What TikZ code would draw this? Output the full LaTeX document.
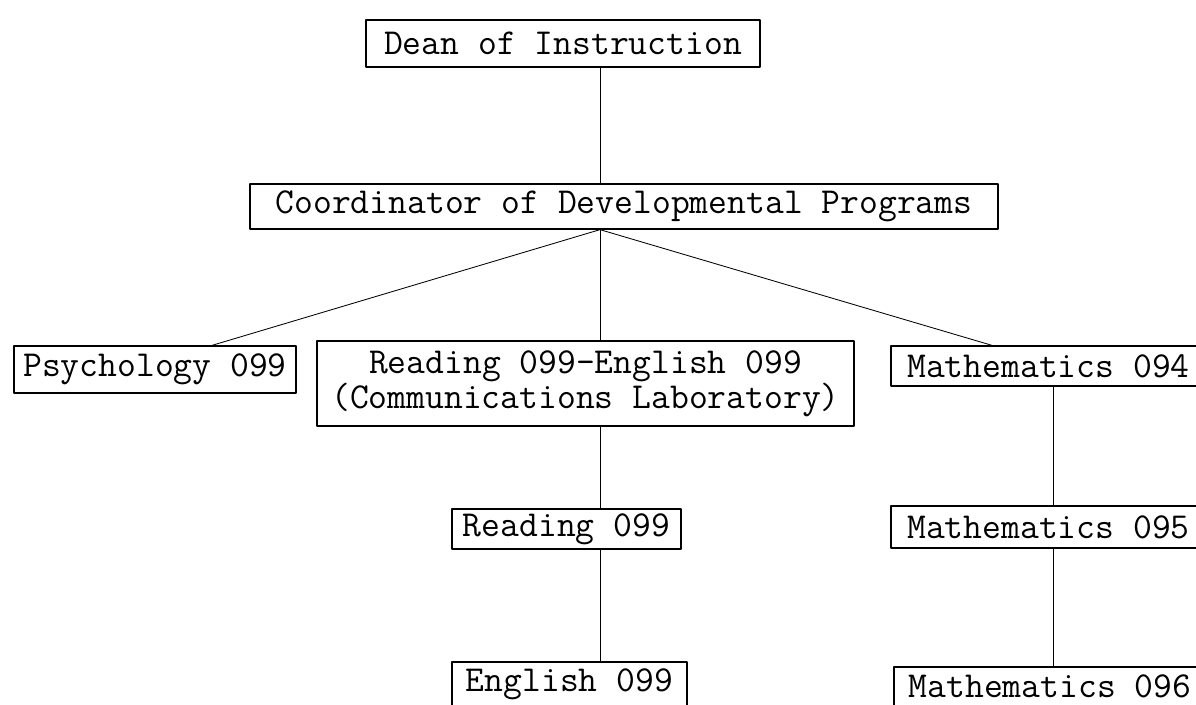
\documentclass[tikz,border=0pt]{standalone}
\usepackage{fontspec}
\tikzset{orgbox/.style={draw, line width=.9pt, inner sep=0pt, align=center,
		font=\ttfamily\fontsize{26}{25}\selectfont}}
\begin{document}
\begin{tikzpicture}[x=.025cm, y=-.025cm, line width=.6pt, line join=round, line cap=round]
			\useasboundingbox (0,0) rectangle (1196,704);
			\clip (0,0) rectangle (1196,704);
			\coordinate (spine) at (600,0);
			\coordinate (mspine) at (1053,0);
			\coordinate (pl) at (212,0);
			\coordinate (pr) at (992,0);
			\node[orgbox, minimum width=9.85cm, minimum height=1.175cm] (dean) at (563,43.5) {Dean of Instruction};
			\node[orgbox, minimum width=18.7cm, minimum height=1.125cm] (coord) at (624,206.5) {Coordinator of Developmental Programs};
			\node[orgbox, minimum width=7.05cm, minimum height=1.175cm] (psych) at (155,369.5) {Psychology 099};
			\node[orgbox, minimum width=13.425cm, minimum height=2.125cm] (comm) at (585.5,383.5) {Reading 099-English 099\\(Communications Laboratory)};
			\node[orgbox, minimum width=7.875cm, minimum height=1cm] (m94) at (1048.5,366) {Mathematics 094};
			\node[orgbox, minimum width=5.725cm, minimum height=1cm] (r99) at (566.5,529) {Reading 099};
			\node[orgbox, minimum width=5.875cm, minimum height=1.1cm] (e99) at (569.5,684) {English 099};
			\node[orgbox, minimum width=7.875cm, minimum height=1.05cm] (m95) at (1048.5,527) {Mathematics 095};
			\node[orgbox, minimum width=7.8cm, minimum height=.975cm] (m96) at (1050,686.5) {Mathematics 096};
			% spine of the chart
			\draw (dean.south -| spine)--(coord.north -| spine);
			\draw (coord.south -| spine)--(comm.north -| spine);
			\draw (coord.south -| spine)--(psych.north -| pl);
			\draw (coord.south -| spine)--(m94.north -| pr);
			\draw (comm.south -| spine)--(r99.north -| spine);
			\draw (r99.south -| spine)--(e99.north -| spine);
			% mathematics sequence
			\draw (m94.south -| mspine)--(m95.north -| mspine);
			\draw (m95.south -| mspine)--(m96.north -| mspine);
	\end{tikzpicture}
\end{document}
